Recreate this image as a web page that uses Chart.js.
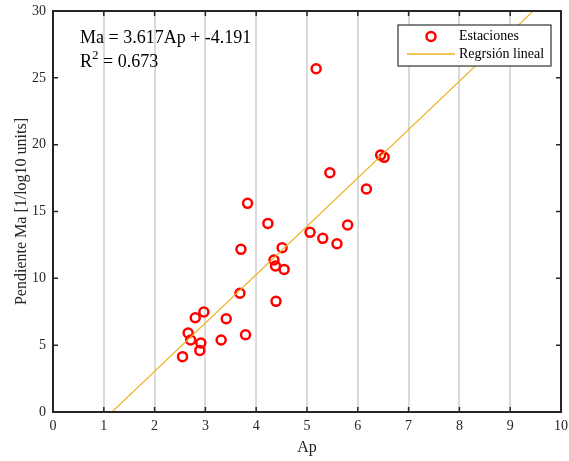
<!DOCTYPE html>
<html>
<head>
<meta charset="utf-8">
<script src="https://cdn.jsdelivr.net/npm/chart.js@4.4.1/dist/chart.umd.min.js"></script>
<style>
  html, body { margin: 0; padding: 0; background: #fff; }
  #wrap { width: 569px; height: 461px; }
</style>
</head>
<body>
<div id="wrap"><canvas id="fitChart" width="569" height="461"></canvas></div>
<script>
// station measurements: Ap vs slope Ma
const apValues = [2.55, 2.66, 2.71, 2.91, 2.89, 2.80, 2.97, 3.31, 3.41, 3.79,
  3.68, 3.70, 3.83, 4.23, 4.35, 4.38, 4.39, 4.51, 4.55, 5.06,
  5.31, 5.59, 5.80, 5.18, 6.45, 6.52, 5.45, 6.17];
const maValues = [4.14, 5.91, 5.39, 5.16, 4.61, 7.05, 7.48, 5.39, 6.98, 5.78,
  8.88, 12.17, 15.61, 14.11, 11.37, 10.92, 8.28, 12.29, 10.67, 13.44,
  12.99, 12.59, 13.99, 25.68, 19.22, 19.05, 17.90, 16.68];

const xTicks = [0, 1, 2, 3, 4, 5, 6, 7, 8, 9, 10];
const yTicks = [0, 5, 10, 15, 20, 25, 30];

// linear fit coefficients
const SLOPE = 3.617;
const INTERCEPT = -4.191;
const R2 = 0.673;
const fitRange = [0, 10];

const serif = "'Liberation Serif', 'Times New Roman', serif";
const axisColor = '#262626';
const red = '#ff0000';
const orange = '#edb120';

const stations = apValues.map((ap, i) => ({ x: ap, y: maValues[i] }));
const fitLine = fitRange.map(x => ({ x, y: SLOPE * x + INTERCEPT }));

// box + inward tick marks on all four sides
const frameAndTicks = {
  id: 'frameAndTicks',
  afterDatasetsDraw(chart) {
    const { ctx, chartArea: a, scales: { x, y } } = chart;
    ctx.save();
    ctx.strokeStyle = axisColor;
    ctx.lineWidth = 1.5;
    ctx.beginPath();
    xTicks.forEach(v => {
      const px = x.getPixelForValue(v);
      ctx.moveTo(px, a.bottom); ctx.lineTo(px, a.bottom - 5);
      ctx.moveTo(px, a.top); ctx.lineTo(px, a.top + 5);
    });
    yTicks.forEach(v => {
      const py = y.getPixelForValue(v);
      ctx.moveTo(a.left, py); ctx.lineTo(a.left + 5, py);
      ctx.moveTo(a.right, py); ctx.lineTo(a.right - 5, py);
    });
    ctx.stroke();
    ctx.lineWidth = 2;
    ctx.strokeRect(a.left, a.top, a.width, a.height);
    ctx.restore();
  }
};

// legend box in the top right corner
const boxLegend = {
  id: 'boxLegend',
  afterDraw(chart) {
    const { ctx, chartArea: a } = chart;
    const w = 153, h = 41;
    const bx = a.right - 10 - w, by = a.top + 14;
    ctx.save();
    ctx.fillStyle = '#fff';
    ctx.fillRect(bx, by, w, h);
    ctx.strokeStyle = '#333';
    ctx.lineWidth = 1.2;
    ctx.strokeRect(bx, by, w, h);

    const sets = chart.data.datasets;
    const scatterSet = sets.find(d => d.type === 'scatter');
    const lineSet = sets.find(d => d.type === 'line');
    const row1 = by + 11.5, row2 = by + 29;

    ctx.beginPath();
    ctx.arc(bx + 33, row1, scatterSet.pointRadius, 0, Math.PI * 2);
    ctx.strokeStyle = scatterSet.borderColor;
    ctx.lineWidth = scatterSet.pointBorderWidth;
    ctx.stroke();

    ctx.beginPath();
    ctx.moveTo(bx + 9, row2);
    ctx.lineTo(bx + 57, row2);
    ctx.strokeStyle = lineSet.borderColor;
    ctx.lineWidth = 1.5;
    ctx.stroke();

    ctx.fillStyle = '#000';
    ctx.font = '14px ' + serif;
    ctx.textBaseline = 'middle';
    ctx.fillText(scatterSet.label, bx + 61, row1);
    ctx.fillText(lineSet.label, bx + 61, row2);
    ctx.restore();
  }
};

// fit equation and R^2 in the top left
const fitText = {
  id: 'fitText',
  afterDraw(chart) {
    const { ctx, chartArea: a } = chart;
    const x0 = a.left + 27;
    ctx.save();
    ctx.fillStyle = '#000';
    ctx.textBaseline = 'alphabetic';
    ctx.font = '18px ' + serif;
    ctx.fillText(`Ma = ${SLOPE.toFixed(3)}Ap + ${INTERCEPT.toFixed(3)}`, x0, a.top + 32);
    const base2 = a.top + 56;
    ctx.fillText('R', x0, base2);
    let cx = x0 + ctx.measureText('R').width;
    ctx.font = '13px ' + serif;
    ctx.fillText('2', cx, base2 - 8);
    cx += ctx.measureText('2').width;
    ctx.font = '18px ' + serif;
    ctx.fillText(` = ${R2.toFixed(3)}`, cx, base2);
    ctx.restore();
  }
};

new Chart(document.getElementById('fitChart'), {
  data: {
    datasets: [
      {
        type: 'line',
        label: 'Regrsión lineal',
        data: fitLine,
        borderColor: orange,
        borderWidth: 1.2,
        pointRadius: 0,
        fill: false,
        order: 0
      },
      {
        type: 'scatter',
        label: 'Estaciones',
        data: stations,
        borderColor: red,
        backgroundColor: 'rgba(0,0,0,0)',
        pointRadius: 4.5,
        pointBorderWidth: 2.5,
        pointHoverRadius: 4.5,
        order: 1
      }
    ]
  },
  options: {
    responsive: false,
    animation: false,
    devicePixelRatio: 1,
    layout: { padding: { left: 0, top: 11, right: 8, bottom: 0 } },
    plugins: {
      legend: { display: false },
      tooltip: { enabled: false }
    },
    scales: {
      x: {
        type: 'linear',
        min: 0,
        max: 10,
        afterFit: s => { s.height = 49; s.paddingLeft = 0; s.paddingRight = 0; },
        afterBuildTicks: s => { s.ticks = xTicks.map(v => ({ value: v })); },
        ticks: { color: '#262626', padding: 6, font: { family: serif, size: 14 } },
        grid: { color: '#dadada', lineWidth: 2, drawTicks: false },
        border: { display: false },
        title: {
          display: true,
          text: 'Ap',
          color: '#262626',
          font: { family: serif, size: 16 },
          padding: { top: 4, bottom: 4 }
        }
      },
      y: {
        type: 'linear',
        min: 0,
        max: 30,
        afterFit: s => { s.width = 53; s.paddingTop = 0; s.paddingBottom = 0; },
        afterBuildTicks: s => { s.ticks = yTicks.map(v => ({ value: v })); },
        ticks: { color: '#262626', padding: 7, font: { family: serif, size: 14 } },
        grid: { display: false, drawTicks: false },
        border: { display: false },
        title: {
          display: true,
          text: 'Pendiente Ma [1/log10 units]',
          color: '#262626',
          font: { family: serif, size: 16 },
          padding: { top: 12, bottom: 10 }
        }
      }
    }
  },
  plugins: [frameAndTicks, boxLegend, fitText]
});
</script>
</body>
</html>
